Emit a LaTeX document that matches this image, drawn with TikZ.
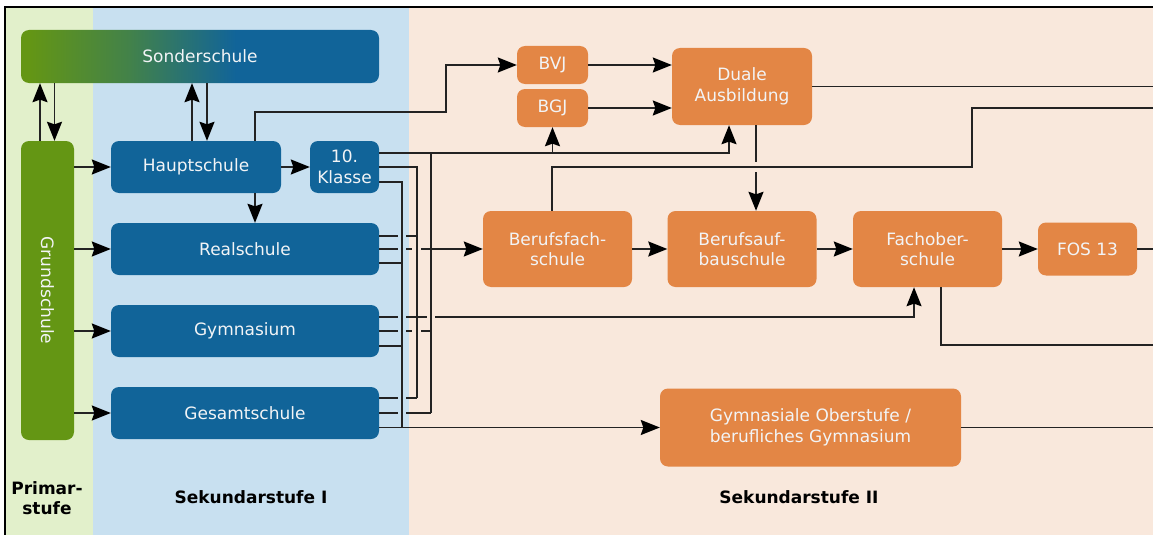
\documentclass[tikz,border=0pt]{standalone}
\usepackage{fontspec}
\setmainfont{DejaVu Sans}
\usetikzlibrary{arrows.meta,calc}
\definecolor{dblue}{RGB}{17,100,153}
\definecolor{dgreen}{RGB}{100,150,20}
\definecolor{orangebox}{RGB}{227,134,69}
\definecolor{bggreen}{RGB}{226,240,203}
\definecolor{bgblue}{RGB}{200,224,240}
\definecolor{bgorange}{RGB}{249,232,220}
\definecolor{boxtext}{RGB}{242,244,246}
\definecolor{lnc}{RGB}{35,35,35}
\colorlet{midgreen}{dgreen!60!dblue}
\pgfdeclarehorizontalshading{sondershade}{100bp}{color(0bp)=(dgreen); color(26bp)=(dgreen); color(40bp)=(midgreen); color(55bp)=(dblue); color(100bp)=(dblue)}
\begin{document}
\begin{tikzpicture}[x=1pt,y=-1pt,
  box/.style={rounded corners=8pt, text=boxtext, align=center, inner sep=0pt,
    font=\fontsize{17}{20.5}\selectfont},
  bbox/.style={box, fill=dblue},
  obox/.style={box, fill=orangebox},
  ln/.style={draw=lnc, line width=1.7pt},
  arr/.style={ln, -{Stealth[length=19pt,width=15pt,inset=2.5pt,color=black]}},
  lbl/.style={font=\bfseries\fontsize{17}{20}\selectfont, align=center, text=black}]
\path[use as bounding box] (0,0) rectangle (1153,535);
\clip (0,0) rectangle (1153,535);
% backgrounds
\fill[white] (0,0) rectangle (1153,535);
\fill[bggreen] (5,7) rectangle (93,545);
\fill[bgblue] (93,7) rectangle (409,545);
\fill[bgorange] (409,7) rectangle (1165,545);
\draw[black, line width=1.6pt] (5,7) rectangle (1170,550);
\coordinate (edge) at (1165,0);
% boxes
\node[box, shading=sondershade, minimum width=358pt, minimum height=53pt] (sonder) at (200,56.5) {Sonderschule};
\node[box, fill=dgreen, minimum width=53pt, minimum height=299pt] (grund) at (47.5,290.5) {};
\node[rotate=-90, text=boxtext, font=\fontsize{17}{20}\selectfont] (grundtext) at (grund) {Grundschule};
\node[bbox, minimum width=170pt, minimum height=52pt] (haupt) at (196,167) {Hauptschule};
\node[bbox, minimum width=69pt, minimum height=52pt] (klasse) at (344.5,167) {10.\\Klasse};
\node[bbox, minimum width=268pt, minimum height=52pt] (real) at (245,249) {Realschule};
\node[bbox, minimum width=268pt, minimum height=52pt] (gymn) at (245,331) {Gymnasium};
\node[bbox, minimum width=268pt, minimum height=52pt] (gesamt) at (245,413) {Gesamtschule};
\node[obox, minimum width=71pt, minimum height=38pt] (bvj) at (552.5,65) {BVJ};
\node[obox, minimum width=71pt, minimum height=38pt] (bgj) at (552.5,108) {BGJ};
\node[obox, minimum width=140pt, minimum height=77pt] (duale) at (742,86.5) {Duale\\Ausbildung};
\node[obox, minimum width=149pt, minimum height=76pt] (bfs) at (557.5,249) {Berufsfach-\\schule};
\node[obox, minimum width=149pt, minimum height=76pt] (bas) at (742,249) {Berufsauf-\\bauschule};
\node[obox, minimum width=149pt, minimum height=76pt] (fos) at (927.5,249) {Fachober-\\schule};
\node[obox, minimum width=99pt, minimum height=53pt] (fos13) at (1087.5,249) {FOS 13};
\node[obox, minimum width=301pt, minimum height=78pt] (gymo) at (810.5,427.5) {Gymnasiale Oberstufe /\\berufliches Gymnasium};
% labels
\node[lbl] (lp) at (47,498) {Primar-\\stufe};
\node[lbl] (l1) at (251,497) {Sekundarstufe I};
\node[lbl] (l2) at (799,497) {Sekundarstufe II};
% Grundschule / Hauptschule <-> Sonderschule
\draw[arr] ([xshift=-7.5pt]grund.north) -- ([xshift=-7.5pt]grund.north |- sonder.south);
\draw[arr] ([xshift=7pt]grund.north |- sonder.south) -- ([xshift=7pt]grund.north);
\draw[arr] ([xshift=-4pt]haupt.north) -- ([xshift=-4pt]haupt.north |- sonder.south);
\draw[arr] ([xshift=11pt]haupt.north |- sonder.south) -- ([xshift=11pt]haupt.north);
% Grundschule -> secondary schools
\foreach \n in {haupt,real,gymn,gesamt} \draw[arr] (grund.east |- \n.west) -- (\n.west);
\draw[arr] (haupt.east) -- (klasse.west);
\draw[arr] ([xshift=59pt]haupt.south) -- ([xshift=59pt]haupt.south |- real.north);
% Hauptschule -> BVJ
\coordinate (hb) at (446,112);
\draw[arr] ([xshift=59pt]haupt.north) |- (hb) |- (bvj.west);
\draw[arr] (bvj.east) -- (bvj.east -| duale.west);
\draw[arr] (bgj.east) -- (bgj.east -| duale.west);
% exit points
\coordinate (k1) at ([yshift=14pt]klasse.east);
\coordinate (k3) at ([yshift=-15pt]klasse.east);
\coordinate (r1) at ([yshift=13pt]real.east);
\coordinate (r3) at ([yshift=-14pt]real.east);
\coordinate (m1) at ([yshift=14pt]gymn.east);
\coordinate (m3) at ([yshift=-15pt]gymn.east);
\coordinate (g1) at ([yshift=15pt]gesamt.east);
\coordinate (bA) at (402,0);
\coordinate (bB) at (417,0);
\coordinate (bC) at (431,0);
% bus C
\draw[arr] (k1) -| ([xshift=-13pt]duale.south);
\draw[arr] (bgj.south |- k1) -- (bgj.south);
\draw[ln] (bC |- k1) -- (bC |- gesamt.east);
\draw[arr] (real.east) -- ++(19,0) ++(8,0) -- ++(6,0) ++(9,0) -- (bfs.west);
\draw[ln] (gymn.east) -- ++(19,0) ++(8,0) -- ++(6,0) ++(9,0) -- (bC |- gymn.east);
\draw[ln] (gesamt.east) -- ++(19,0) ++(8,0) -- (bC |- gesamt.east);
% bus B
\draw[ln] (klasse.east) -| (bB |- g1);
\draw[ln] (g1) -- ++(19,0) ++(8,0) -- (bB |- g1);
\draw[ln] (r1) -- ++(19,0) ++(8,0) -- (bB |- r1);
\draw[arr] (m1) -- ++(19,0) ++(8,0) -- ++(21,0) ++(8,0) -| ([xshift=-13.5pt]fos.south);
% bus A
\draw[ln] (k3) -| (bA |- gymo.west);
\draw[ln] (r3) -- (bA |- r3);
\draw[ln] (m3) -- (bA |- m3);
\draw[arr] (gesamt.east |- gymo.west) -- (gymo.west);
% Sekundarstufe II
\draw[arr] ([xshift=14pt]duale.south) -- ++(0,37) ++(0,10) -- ([xshift=14pt]bas.north);
\draw[ln] (duale.east) -- (duale.east -| edge);
\coordinate (st) at (972,167);
\coordinate (st2) at (972,108);
\draw[ln] ([xshift=-5.5pt]bfs.north) |- (st) -- (st2) -- (st2 -| edge);
\draw[arr] (bfs.east) -- (bas.west);
\draw[arr] (bas.east) -- (fos.west);
\draw[arr] (fos.east) -- (fos13.west);
\draw[ln] (fos13.east) -- (fos13.east -| edge);
\coordinate (fb) at (1165,345);
\draw[ln] ([xshift=13.5pt]fos.south) |- (fb);
\draw[ln] (gymo.east) -- (gymo.east -| edge);
\end{tikzpicture}
\end{document}
